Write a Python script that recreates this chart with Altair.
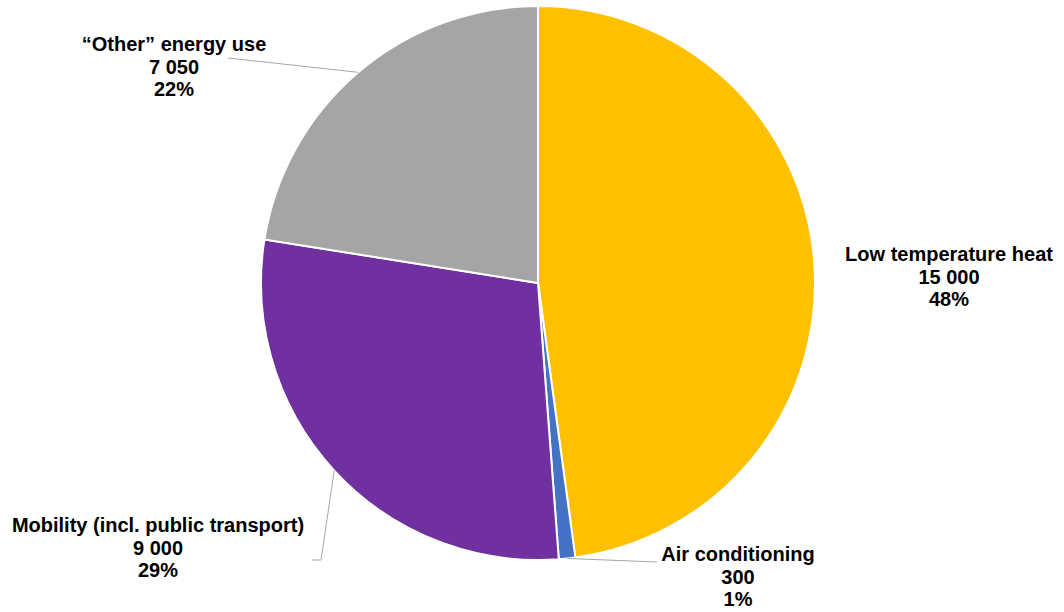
import math
import altair as alt
import pandas as pd

# ---- data ----
categories = ["Low temperature heat", "Air conditioning",
              "Mobility (incl. public transport)", "\u201cOther\u201d energy use"]
values = [15000, 300, 9000, 7050]
colors = ["#FFC000", "#4472C4", "#7030A0", "#A5A5A5"]

# ---- layout (pixels) ----
W, H = 1064, 612
CX, CY, R = 538, 283, 277
# label block centres (first line) and leader-line end points
label_pos = [(949, 255), (738, 555), (158, 526), (174, 45)]
leader_end = [None, [(657, 562)], [(321, 560), (312, 560)], [(228, 58)]]
FONT = "Liberation Sans"
FS = 20
LH = 22.5

total = sum(values)
df = pd.DataFrame({"category": categories, "value": values,
                   "order": list(range(len(values)))})

def fmt(v):
    return f"{v:,}".replace(",", " ")

# label lines
rows = []
for i, (c, v) in enumerate(zip(categories, values)):
    lines = [c, fmt(v), f"{round(100 * v / total)}%"]
    lx, ly = label_pos[i]
    for k, t in enumerate(lines):
        rows.append({"t": t, "x": lx, "y": ly + k * LH})
labels = pd.DataFrame(rows)

# leader lines from slice midpoints
lrows = []
cum = 0
for i, v in enumerate(values):
    mid = (cum + v / 2) / total * 2 * math.pi
    cum += v
    if leader_end[i] is None:
        continue
    sx = CX + R * math.sin(mid)
    sy = CY - R * math.cos(mid)
    pts = [(sx, sy)] + leader_end[i]
    for k, (px, py) in enumerate(pts):
        lrows.append({"id": i, "k": k, "x": px, "y": py})
leaders = pd.DataFrame(lrows)

pie = alt.Chart(df).mark_arc(outerRadius=R, stroke="white", strokeWidth=2).encode(
    theta=alt.Theta("value:Q", stack=True),
    order=alt.Order("order:Q"),
    color=alt.Color("category:N", scale=alt.Scale(domain=categories, range=colors), legend=None),
    x=alt.value(CX),
    y=alt.value(CY),
)

lines = alt.Chart(leaders).mark_line(color="#A6A6A6", strokeWidth=1).encode(
    x=alt.X("x:Q", scale=None),
    y=alt.Y("y:Q", scale=None),
    detail="id:N",
    order="k:Q",
)

text = alt.Chart(labels).mark_text(font=FONT, fontSize=FS, fontWeight="bold",
                                   color="#000000", align="center", baseline="middle").encode(
    x=alt.X("x:Q", scale=None),
    y=alt.Y("y:Q", scale=None),
    text="t:N",
)

chart = alt.layer(pie, lines, text).properties(
    width=W, height=H, padding=0,
    autosize=alt.AutoSizeParams(type="none"),
).configure_view(stroke=None)

chart.save("out.html", embed_options={"renderer": "svg", "actions": False})
